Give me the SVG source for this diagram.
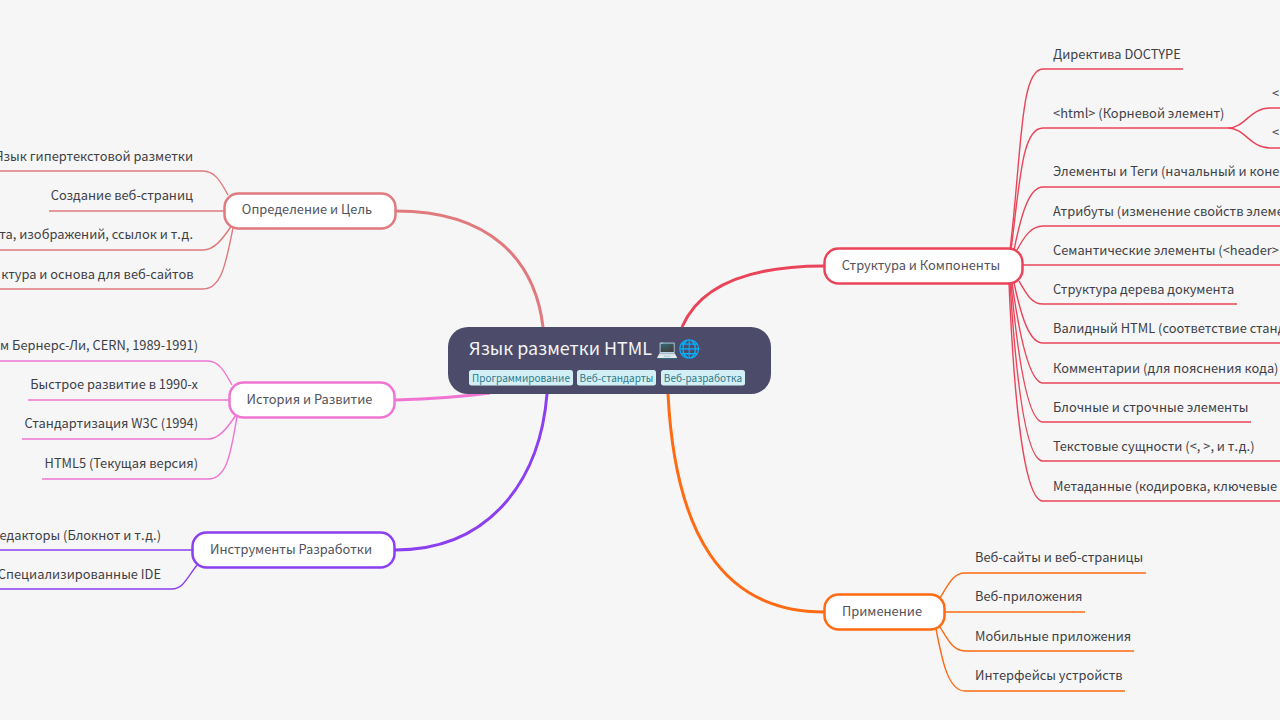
<svg xmlns="http://www.w3.org/2000/svg" width="1280" height="720" viewBox="0 0 1280 720">
<style>
text{font-family:"Noto Sans CJK SC","Noto Sans",sans-serif;}
.l{font-size:12.850px;fill:#3f3f46;}
.e{text-anchor:end;}
.m{font-size:12.850px;fill:#52525b;text-anchor:middle;}
.t{font-size:10px;fill:#2b7a8c;text-anchor:middle;}
.n{fill:#fff;stroke-width:2.500;}
.c{fill:none;stroke-width:1.400;}
.b{fill:none;stroke-width:3;}
.tag{fill:#d3eff6;}
</style>
<rect width="1280" height="720" fill="#f6f6f6"/>
<g id="connectors">
<g stroke="#e07a7e">
<path class="b" d="M396 211C490 211 535 260 543 327"/>
<path class="c" d="M228 195C220 180 214 171 203 171H0"/><path class="c" d="M224 211H49"/><path class="c" d="M232 225C222 240 214 250 203 250H0"/><path class="c" d="M233 228C226 262 222 289 203 289H0"/>
</g>
<g stroke="#f075d3">
<path class="b" d="M395 400C430 399 460 397 490 393"/>
<path class="c" d="M232 385C224 370 218 361 208 361H0"/><path class="c" d="M229 400H28"/><path class="c" d="M236 415C226 430 218 439 208 439H22"/><path class="c" d="M237 417C231 450 228 479 208 479H42"/>
</g>
<g stroke="#8b3ff0">
<path class="b" d="M395 550C490 550 540 480 547 394"/>
<path class="c" d="M192 550H0"/><path class="c" d="M197 565C187 578 183 589 172 589H0"/>
</g>
<g stroke="#e9445a">
<path class="b" d="M824 266C750 266 700 285 682 327"/>
<path class="c" d="M1010 250C1022 150 1020 69 1043 69H1183"/>
<path class="c" d="M1011 250C1020 180 1022 128 1043 128H1228"/>
<path class="c" d="M1014 250C1022 210 1030 187 1043 187H1280"/>
<path class="c" d="M1017 250C1025 235 1032 226 1043 226H1280"/>
<path class="c" d="M1023 265H1280"/>
<path class="c" d="M1019 281C1027 295 1032 304 1043 304H1237"/>
<path class="c" d="M1014 283C1022 320 1030 343 1043 343H1280"/>
<path class="c" d="M1012 283C1020 340 1030 383 1043 383H1280"/>
<path class="c" d="M1011 283C1018 360 1028 422 1043 422H1251"/>
<path class="c" d="M1010 283C1016 380 1026 461 1043 461H1280"/>
<path class="c" d="M1009 283C1014 400 1024 501 1043 501H1280"/>
<path class="c" d="M1228 128C1245 128 1250 108 1270 108H1280"/>
<path class="c" d="M1228 128C1245 128 1250 148 1270 148H1280"/>
</g>
<g stroke="#ff6a13">
<path class="b" d="M824 612C720 612 675 530 668 394"/>
<path class="c" d="M940 598C948 585 953 573 965 573H1146"/>
<path class="c" d="M945 612H1085"/>
<path class="c" d="M940 627C948 640 953 651 965 651H1134"/>
<path class="c" d="M936 629C942 660 948 691 965 691H1125"/>
</g>
</g>
<g id="root">
<rect x="448" y="327" width="323" height="67" rx="20" fill="#4c4c6a"/>
<text x="469" y="354.500" font-size="17.900" fill="#f4f4f5">Язык разметки HTML 💻🌐</text>
<rect class="tag" x="469" y="370" width="104" height="15.500" rx="2.500"/><text class="t" x="521" y="381.500">Программирование</text>
<rect class="tag" x="577" y="370" width="79" height="15.500" rx="2.500"/><text class="t" x="616.500" y="381.500">Веб-стандарты</text>
<rect class="tag" x="661" y="370" width="84" height="15.500" rx="2.500"/><text class="t" x="703" y="381.500">Веб-разработка</text>
</g>
<g id="n1"><rect class="n" stroke="#e07a7e" x="224.500" y="193.500" width="171" height="35" rx="14"/><text class="m" x="307" y="214">Определение и Цель</text></g>
<g id="n2"><rect class="n" stroke="#f075d3" x="229.500" y="382.500" width="165" height="35" rx="14"/><text class="m" x="309.500" y="403.500">История и Развитие</text></g>
<g id="n3"><rect class="n" stroke="#8b3ff0" x="192.500" y="532.500" width="202" height="35" rx="14"/><text class="m" x="291" y="553.500">Инструменты Разработки</text></g>
<g id="n4"><rect class="n" stroke="#e9445a" x="824.500" y="248.500" width="198" height="35" rx="14"/><text class="m" x="921" y="269.500">Структура и Компоненты</text></g>
<g id="n5"><rect class="n" stroke="#ff6a13" x="824.500" y="594.500" width="120" height="35" rx="14"/><text class="m" x="882" y="615.500">Применение</text></g>
<g id="leaves-left">
<text class="l e" x="193" y="161">Язык гипертекстовой разметки</text>
<text class="l e" x="193" y="200">Создание веб-страниц</text>
<text class="l e" x="193" y="239">та, изображений, ссылок и т.д.</text>
<text class="l e" x="193.500" y="279">ктура и основа для веб-сайтов</text>
<text class="l e" x="198" y="350">м Бернерс-Ли, CERN, 1989-1991)</text>
<text class="l e" x="198" y="389">Быстрое развитие в 1990-х</text>
<text class="l e" x="198" y="428">Стандартизация W3C (1994)</text>
<text class="l e" x="198" y="468">HTML5 (Текущая версия)</text>
<text class="l e" x="161" y="540">едакторы (Блокнот и т.д.)</text>
<text class="l e" x="161" y="579">Специализированные IDE</text>
</g>
<g id="leaves-right">
<text class="l" x="1053" y="59">Директива DOCTYPE</text>
<text class="l" x="1053" y="118">&lt;html&gt; (Корневой элемент)</text>
<text class="l" x="1272" y="98">&lt;</text>
<text class="l" x="1272" y="137">&lt;</text>
<text class="l" x="1053" y="176">Элементы и Теги (начальный и коне</text>
<text class="l" x="1053" y="216">Атрибуты (изменение свойств элеме</text>
<text class="l" x="1053" y="255">Семантические элементы (&lt;header&gt;</text>
<text class="l" x="1053" y="294">Структура дерева документа</text>
<text class="l" x="1053" y="333">Валидный HTML (соответствие станд</text>
<text class="l" x="1053" y="373">Комментарии (для пояснения кода)</text>
<text class="l" x="1053" y="412">Блочные и строчные элементы</text>
<text class="l" x="1053" y="451">Текстовые сущности (&lt;, &gt;, и т.д.)</text>
<text class="l" x="1053" y="491">Метаданные (кодировка, ключевые</text>
<text class="l" x="975" y="562">Веб-сайты и веб-страницы</text>
<text class="l" x="975" y="601">Веб-приложения</text>
<text class="l" x="975" y="641">Мобильные приложения</text>
<text class="l" x="975" y="680">Интерфейсы устройств</text>
</g>
</svg>
